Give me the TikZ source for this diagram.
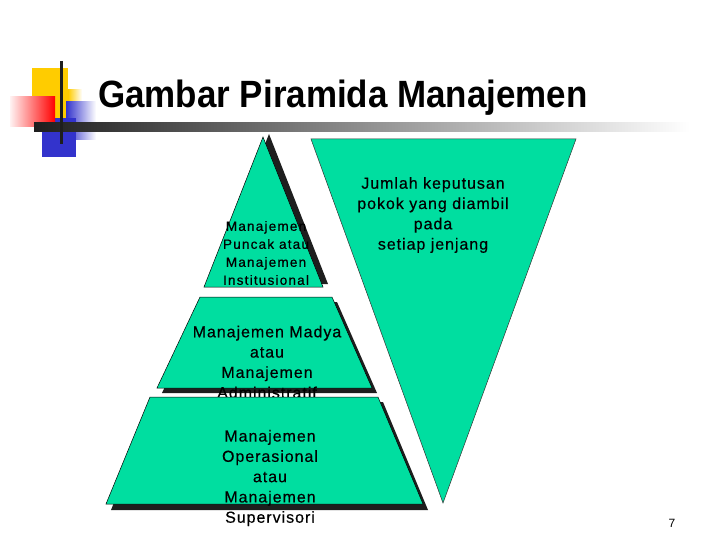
\documentclass[tikz,border=0pt]{standalone}
\usepackage{fontspec}
\setmainfont{Liberation Sans}
\newfontfamily\bodyfont{Liberation Sans}[LetterSpace=6,FakeBold=0.4]
\newfontfamily\kecilfont{Liberation Sans}[LetterSpace=9,FakeBold=0.5]
\newfontfamily\titlefont{Liberation Sans}[FakeStretch=0.92]
\definecolor{piramid}{RGB}{0,222,160}
\definecolor{bayang}{RGB}{30,30,30}
\definecolor{kuning}{RGB}{255,204,0}
\definecolor{biru}{RGB}{51,51,204}
\begin{document}
\begin{tikzpicture}[x=1pt,y=-1pt]
        \useasboundingbox (0,0) rectangle (720,540);
        % hiasan judul
        \fill[kuning] (32,68) rectangle (68,118);
        \shade[left color=kuning,right color=white] (68,90) rectangle (82,118);
        \shade[left color=biru,right color=white] (66,102) rectangle (96,140);
        \fill[biru] (42,118) rectangle (76,157);
        \shade[left color=red!5,right color=red] (10,97) rectangle (55,127);
        \shade[left color=bayang,right color=white] (34,123) rectangle (690,132);
        \draw[line width=3pt,bayang] (61,61)--(61,144);
        \node[anchor=base west,inner sep=0pt,font=\titlefont\bfseries\fontsize{38}{42}\selectfont] (judul) at (98,108) {Gambar Piramida Manajemen};
        % puncak
        \fill[bayang] (269,134)--(209,284)--(328,284)--cycle;
        \filldraw[fill=piramid,draw=black,line width=0.5pt] (263,137)--(204,287)--(323,287)--cycle;
        \node[align=center,font=\kecilfont\fontsize{13.5}{18}\selectfont] (puncak) at (266,253) {Manajemen\\Puncak atau\\Manajemen\\Institusional};
        % madya
        \fill[bayang] (205,302)--(337,302)--(377,393)--(162,393)--cycle;
        \filldraw[fill=piramid,draw=black,line width=0.5pt] (200,297)--(332,297)--(372,388)--(157,388)--cycle;
        \node[align=center,font=\bodyfont\fontsize{16}{20.3}\selectfont] (madya) at (267,362) {Manajemen Madya\\atau\\Manajemen\\Administratif};
        % operasional
        \fill[bayang] (155,402)--(383,402)--(428,510)--(111,510)--cycle;
        \filldraw[fill=piramid,draw=black,line width=0.5pt] (150,397)--(378,397)--(423,504)--(106,504)--cycle;
        \node[align=center,font=\bodyfont\fontsize{16}{20.3}\selectfont] (operasional) at (270,478) {Manajemen\\Operasional\\atau\\Manajemen\\Supervisori};
        % keputusan
        \filldraw[fill=piramid,draw=black!80,line width=0.5pt] (311,139)--(576,139)--(443,503)--cycle;
        \node[align=center,font=\bodyfont\fontsize{16}{20.3}\selectfont] (keputusan) at (433,215) {Jumlah keputusan\\pokok yang diambil\\pada\\setiap jenjang};
        \node[font=\fontsize{12}{14}\selectfont] (halaman) at (672,523) {7};
    \end{tikzpicture}
\end{document}
